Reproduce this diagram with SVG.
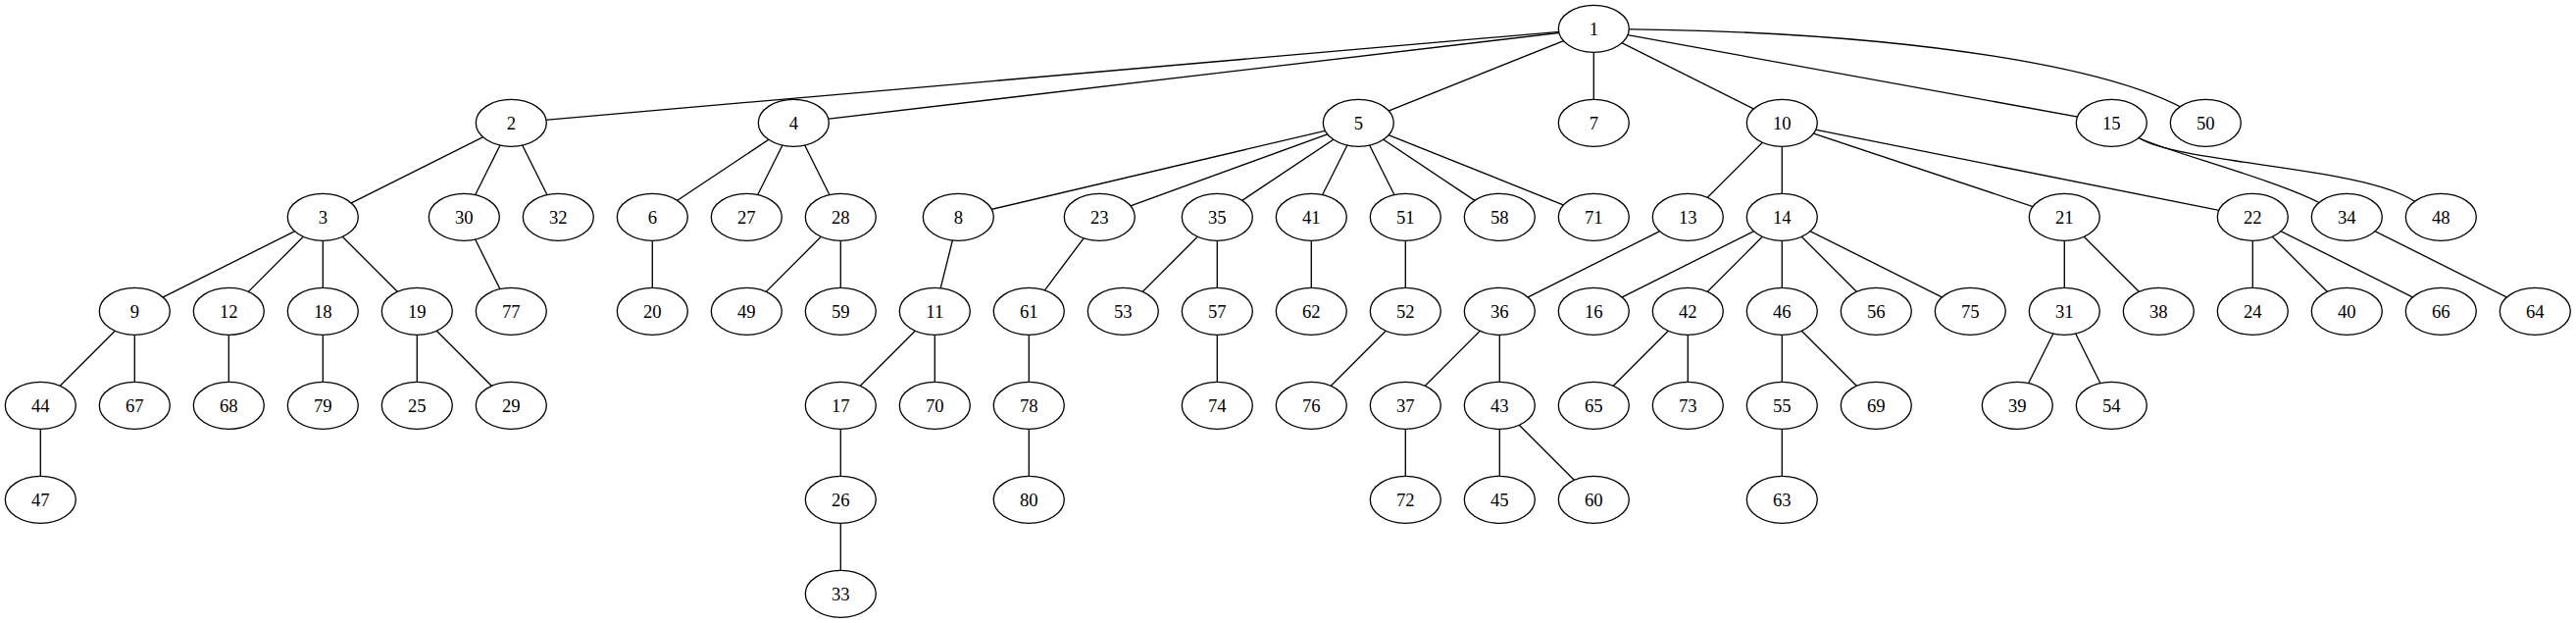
<svg xmlns="http://www.w3.org/2000/svg" width="2627" height="635" viewBox="0 0 2627 635">
<style>
.bg{fill:#ffffff}
.edges path{fill:none;stroke:#000;stroke-width:1.33}
.node ellipse{fill:#ffffff;stroke:#000;stroke-width:1.33}
.node text{font-family:"Liberation Serif","Times New Roman",serif;font-size:18.67px;text-anchor:middle;fill:#000}
</style>
<rect class="bg" x="0" y="0" width="2627" height="635"/>
<g id="edges" class="edges">
<path d="M1625.3,29.3L521.3,125.3"/>
<path d="M1625.3,29.3L809.3,125.3"/>
<path d="M1625.3,29.3L1385.3,125.3"/>
<path d="M1625.3,29.3L1625.3,125.3"/>
<path d="M1625.3,29.3L1817.3,125.3"/>
<path d="M1625.3,29.3L2153.3,125.3"/>
<path d="M1625.3,29.3C1950,31 2180,70 2249.3,125.3"/>
<path d="M521.3,125.3L329.3,221.3"/>
<path d="M521.3,125.3L473.3,221.3"/>
<path d="M521.3,125.3L569.3,221.3"/>
<path d="M809.3,125.3L665.3,221.3"/>
<path d="M809.3,125.3L761.3,221.3"/>
<path d="M809.3,125.3L857.3,221.3"/>
<path d="M1385.3,125.3L977.3,221.3"/>
<path d="M1385.3,125.3L1121.3,221.3"/>
<path d="M1385.3,125.3L1241.3,221.3"/>
<path d="M1385.3,125.3L1337.3,221.3"/>
<path d="M1385.3,125.3L1433.3,221.3"/>
<path d="M1385.3,125.3L1529.3,221.3"/>
<path d="M1385.3,125.3L1625.3,221.3"/>
<path d="M1817.3,125.3L1721.3,221.3"/>
<path d="M1817.3,125.3L1817.3,221.3"/>
<path d="M1817.3,125.3L2105.3,221.3"/>
<path d="M1817.3,125.3L2297.3,221.3"/>
<path d="M2153.3,125.3L2182,141C2215,156 2320,183 2366,207L2393.3,221.3"/>
<path d="M2153.3,125.3L2182,141C2225,167 2410,170 2462,205L2489.3,221.3"/>
<path d="M329.3,221.3L137.3,317.3"/>
<path d="M329.3,221.3L233.3,317.3"/>
<path d="M329.3,221.3L329.3,317.3"/>
<path d="M329.3,221.3L425.3,317.3"/>
<path d="M473.3,221.3L521.3,317.3"/>
<path d="M665.3,221.3L665.3,317.3"/>
<path d="M857.3,221.3L761.3,317.3"/>
<path d="M857.3,221.3L857.3,317.3"/>
<path d="M977.3,221.3L953.3,317.3"/>
<path d="M1121.3,221.3L1049.3,317.3"/>
<path d="M1241.3,221.3L1145.3,317.3"/>
<path d="M1241.3,221.3L1241.3,317.3"/>
<path d="M1337.3,221.3L1337.3,317.3"/>
<path d="M1433.3,221.3L1433.3,317.3"/>
<path d="M1721.3,221.3L1529.3,317.3"/>
<path d="M1817.3,221.3L1625.3,317.3"/>
<path d="M1817.3,221.3L1721.3,317.3"/>
<path d="M1817.3,221.3L1817.3,317.3"/>
<path d="M1817.3,221.3L1913.3,317.3"/>
<path d="M1817.3,221.3L2009.3,317.3"/>
<path d="M2105.3,221.3L2105.3,317.3"/>
<path d="M2105.3,221.3L2201.3,317.3"/>
<path d="M2297.3,221.3L2297.3,317.3"/>
<path d="M2297.3,221.3L2393.3,317.3"/>
<path d="M2297.3,221.3L2489.3,317.3"/>
<path d="M2393.3,221.3L2585.3,317.3"/>
<path d="M137.3,317.3L41.3,413.3"/>
<path d="M137.3,317.3L137.3,413.3"/>
<path d="M233.3,317.3L233.3,413.3"/>
<path d="M329.3,317.3L329.3,413.3"/>
<path d="M425.3,317.3L425.3,413.3"/>
<path d="M425.3,317.3L521.3,413.3"/>
<path d="M953.3,317.3L857.3,413.3"/>
<path d="M953.3,317.3L953.3,413.3"/>
<path d="M1049.3,317.3L1049.3,413.3"/>
<path d="M1241.3,317.3L1241.3,413.3"/>
<path d="M1433.3,317.3L1337.3,413.3"/>
<path d="M1529.3,317.3L1433.3,413.3"/>
<path d="M1529.3,317.3L1529.3,413.3"/>
<path d="M1721.3,317.3L1625.3,413.3"/>
<path d="M1721.3,317.3L1721.3,413.3"/>
<path d="M1817.3,317.3L1817.3,413.3"/>
<path d="M1817.3,317.3L1913.3,413.3"/>
<path d="M2105.3,317.3L2057.3,413.3"/>
<path d="M2105.3,317.3L2153.3,413.3"/>
<path d="M41.3,413.3L41.3,509.3"/>
<path d="M857.3,413.3L857.3,509.3"/>
<path d="M1049.3,413.3L1049.3,509.3"/>
<path d="M1433.3,413.3L1433.3,509.3"/>
<path d="M1529.3,413.3L1529.3,509.3"/>
<path d="M1529.3,413.3L1625.3,509.3"/>
<path d="M1817.3,413.3L1817.3,509.3"/>
<path d="M857.3,509.3L857.3,605.3"/>
</g>
<g id="node1" class="node"><ellipse cx="1625.3" cy="29.3" rx="36" ry="24"/><text x="1625.3" y="35.6">1</text></g>
<g id="node2" class="node"><ellipse cx="521.3" cy="125.3" rx="36" ry="24"/><text x="521.3" y="131.6">2</text></g>
<g id="node4" class="node"><ellipse cx="809.3" cy="125.3" rx="36" ry="24"/><text x="809.3" y="131.6">4</text></g>
<g id="node5" class="node"><ellipse cx="1385.3" cy="125.3" rx="36" ry="24"/><text x="1385.3" y="131.6">5</text></g>
<g id="node7" class="node"><ellipse cx="1625.3" cy="125.3" rx="36" ry="24"/><text x="1625.3" y="131.6">7</text></g>
<g id="node10" class="node"><ellipse cx="1817.3" cy="125.3" rx="36" ry="24"/><text x="1817.3" y="131.6">10</text></g>
<g id="node15" class="node"><ellipse cx="2153.3" cy="125.3" rx="36" ry="24"/><text x="2153.3" y="131.6">15</text></g>
<g id="node50" class="node"><ellipse cx="2249.3" cy="125.3" rx="36" ry="24"/><text x="2249.3" y="131.6">50</text></g>
<g id="node3" class="node"><ellipse cx="329.3" cy="221.3" rx="36" ry="24"/><text x="329.3" y="227.6">3</text></g>
<g id="node30" class="node"><ellipse cx="473.3" cy="221.3" rx="36" ry="24"/><text x="473.3" y="227.6">30</text></g>
<g id="node32" class="node"><ellipse cx="569.3" cy="221.3" rx="36" ry="24"/><text x="569.3" y="227.6">32</text></g>
<g id="node6" class="node"><ellipse cx="665.3" cy="221.3" rx="36" ry="24"/><text x="665.3" y="227.6">6</text></g>
<g id="node27" class="node"><ellipse cx="761.3" cy="221.3" rx="36" ry="24"/><text x="761.3" y="227.6">27</text></g>
<g id="node28" class="node"><ellipse cx="857.3" cy="221.3" rx="36" ry="24"/><text x="857.3" y="227.6">28</text></g>
<g id="node8" class="node"><ellipse cx="977.3" cy="221.3" rx="36" ry="24"/><text x="977.3" y="227.6">8</text></g>
<g id="node23" class="node"><ellipse cx="1121.3" cy="221.3" rx="36" ry="24"/><text x="1121.3" y="227.6">23</text></g>
<g id="node35" class="node"><ellipse cx="1241.3" cy="221.3" rx="36" ry="24"/><text x="1241.3" y="227.6">35</text></g>
<g id="node41" class="node"><ellipse cx="1337.3" cy="221.3" rx="36" ry="24"/><text x="1337.3" y="227.6">41</text></g>
<g id="node51" class="node"><ellipse cx="1433.3" cy="221.3" rx="36" ry="24"/><text x="1433.3" y="227.6">51</text></g>
<g id="node58" class="node"><ellipse cx="1529.3" cy="221.3" rx="36" ry="24"/><text x="1529.3" y="227.6">58</text></g>
<g id="node71" class="node"><ellipse cx="1625.3" cy="221.3" rx="36" ry="24"/><text x="1625.3" y="227.6">71</text></g>
<g id="node13" class="node"><ellipse cx="1721.3" cy="221.3" rx="36" ry="24"/><text x="1721.3" y="227.6">13</text></g>
<g id="node14" class="node"><ellipse cx="1817.3" cy="221.3" rx="36" ry="24"/><text x="1817.3" y="227.6">14</text></g>
<g id="node21" class="node"><ellipse cx="2105.3" cy="221.3" rx="36" ry="24"/><text x="2105.3" y="227.6">21</text></g>
<g id="node22" class="node"><ellipse cx="2297.3" cy="221.3" rx="36" ry="24"/><text x="2297.3" y="227.6">22</text></g>
<g id="node34" class="node"><ellipse cx="2393.3" cy="221.3" rx="36" ry="24"/><text x="2393.3" y="227.6">34</text></g>
<g id="node48" class="node"><ellipse cx="2489.3" cy="221.3" rx="36" ry="24"/><text x="2489.3" y="227.6">48</text></g>
<g id="node9" class="node"><ellipse cx="137.3" cy="317.3" rx="36" ry="24"/><text x="137.3" y="323.6">9</text></g>
<g id="node12" class="node"><ellipse cx="233.3" cy="317.3" rx="36" ry="24"/><text x="233.3" y="323.6">12</text></g>
<g id="node18" class="node"><ellipse cx="329.3" cy="317.3" rx="36" ry="24"/><text x="329.3" y="323.6">18</text></g>
<g id="node19" class="node"><ellipse cx="425.3" cy="317.3" rx="36" ry="24"/><text x="425.3" y="323.6">19</text></g>
<g id="node77" class="node"><ellipse cx="521.3" cy="317.3" rx="36" ry="24"/><text x="521.3" y="323.6">77</text></g>
<g id="node20" class="node"><ellipse cx="665.3" cy="317.3" rx="36" ry="24"/><text x="665.3" y="323.6">20</text></g>
<g id="node49" class="node"><ellipse cx="761.3" cy="317.3" rx="36" ry="24"/><text x="761.3" y="323.6">49</text></g>
<g id="node59" class="node"><ellipse cx="857.3" cy="317.3" rx="36" ry="24"/><text x="857.3" y="323.6">59</text></g>
<g id="node11" class="node"><ellipse cx="953.3" cy="317.3" rx="36" ry="24"/><text x="953.3" y="323.6">11</text></g>
<g id="node61" class="node"><ellipse cx="1049.3" cy="317.3" rx="36" ry="24"/><text x="1049.3" y="323.6">61</text></g>
<g id="node53" class="node"><ellipse cx="1145.3" cy="317.3" rx="36" ry="24"/><text x="1145.3" y="323.6">53</text></g>
<g id="node57" class="node"><ellipse cx="1241.3" cy="317.3" rx="36" ry="24"/><text x="1241.3" y="323.6">57</text></g>
<g id="node62" class="node"><ellipse cx="1337.3" cy="317.3" rx="36" ry="24"/><text x="1337.3" y="323.6">62</text></g>
<g id="node52" class="node"><ellipse cx="1433.3" cy="317.3" rx="36" ry="24"/><text x="1433.3" y="323.6">52</text></g>
<g id="node36" class="node"><ellipse cx="1529.3" cy="317.3" rx="36" ry="24"/><text x="1529.3" y="323.6">36</text></g>
<g id="node16" class="node"><ellipse cx="1625.3" cy="317.3" rx="36" ry="24"/><text x="1625.3" y="323.6">16</text></g>
<g id="node42" class="node"><ellipse cx="1721.3" cy="317.3" rx="36" ry="24"/><text x="1721.3" y="323.6">42</text></g>
<g id="node46" class="node"><ellipse cx="1817.3" cy="317.3" rx="36" ry="24"/><text x="1817.3" y="323.6">46</text></g>
<g id="node56" class="node"><ellipse cx="1913.3" cy="317.3" rx="36" ry="24"/><text x="1913.3" y="323.6">56</text></g>
<g id="node75" class="node"><ellipse cx="2009.3" cy="317.3" rx="36" ry="24"/><text x="2009.3" y="323.6">75</text></g>
<g id="node31" class="node"><ellipse cx="2105.3" cy="317.3" rx="36" ry="24"/><text x="2105.3" y="323.6">31</text></g>
<g id="node38" class="node"><ellipse cx="2201.3" cy="317.3" rx="36" ry="24"/><text x="2201.3" y="323.6">38</text></g>
<g id="node24" class="node"><ellipse cx="2297.3" cy="317.3" rx="36" ry="24"/><text x="2297.3" y="323.6">24</text></g>
<g id="node40" class="node"><ellipse cx="2393.3" cy="317.3" rx="36" ry="24"/><text x="2393.3" y="323.6">40</text></g>
<g id="node66" class="node"><ellipse cx="2489.3" cy="317.3" rx="36" ry="24"/><text x="2489.3" y="323.6">66</text></g>
<g id="node64" class="node"><ellipse cx="2585.3" cy="317.3" rx="36" ry="24"/><text x="2585.3" y="323.6">64</text></g>
<g id="node44" class="node"><ellipse cx="41.3" cy="413.3" rx="36" ry="24"/><text x="41.3" y="419.6">44</text></g>
<g id="node67" class="node"><ellipse cx="137.3" cy="413.3" rx="36" ry="24"/><text x="137.3" y="419.6">67</text></g>
<g id="node68" class="node"><ellipse cx="233.3" cy="413.3" rx="36" ry="24"/><text x="233.3" y="419.6">68</text></g>
<g id="node79" class="node"><ellipse cx="329.3" cy="413.3" rx="36" ry="24"/><text x="329.3" y="419.6">79</text></g>
<g id="node25" class="node"><ellipse cx="425.3" cy="413.3" rx="36" ry="24"/><text x="425.3" y="419.6">25</text></g>
<g id="node29" class="node"><ellipse cx="521.3" cy="413.3" rx="36" ry="24"/><text x="521.3" y="419.6">29</text></g>
<g id="node17" class="node"><ellipse cx="857.3" cy="413.3" rx="36" ry="24"/><text x="857.3" y="419.6">17</text></g>
<g id="node70" class="node"><ellipse cx="953.3" cy="413.3" rx="36" ry="24"/><text x="953.3" y="419.6">70</text></g>
<g id="node78" class="node"><ellipse cx="1049.3" cy="413.3" rx="36" ry="24"/><text x="1049.3" y="419.6">78</text></g>
<g id="node74" class="node"><ellipse cx="1241.3" cy="413.3" rx="36" ry="24"/><text x="1241.3" y="419.6">74</text></g>
<g id="node76" class="node"><ellipse cx="1337.3" cy="413.3" rx="36" ry="24"/><text x="1337.3" y="419.6">76</text></g>
<g id="node37" class="node"><ellipse cx="1433.3" cy="413.3" rx="36" ry="24"/><text x="1433.3" y="419.6">37</text></g>
<g id="node43" class="node"><ellipse cx="1529.3" cy="413.3" rx="36" ry="24"/><text x="1529.3" y="419.6">43</text></g>
<g id="node65" class="node"><ellipse cx="1625.3" cy="413.3" rx="36" ry="24"/><text x="1625.3" y="419.6">65</text></g>
<g id="node73" class="node"><ellipse cx="1721.3" cy="413.3" rx="36" ry="24"/><text x="1721.3" y="419.6">73</text></g>
<g id="node55" class="node"><ellipse cx="1817.3" cy="413.3" rx="36" ry="24"/><text x="1817.3" y="419.6">55</text></g>
<g id="node69" class="node"><ellipse cx="1913.3" cy="413.3" rx="36" ry="24"/><text x="1913.3" y="419.6">69</text></g>
<g id="node39" class="node"><ellipse cx="2057.3" cy="413.3" rx="36" ry="24"/><text x="2057.3" y="419.6">39</text></g>
<g id="node54" class="node"><ellipse cx="2153.3" cy="413.3" rx="36" ry="24"/><text x="2153.3" y="419.6">54</text></g>
<g id="node47" class="node"><ellipse cx="41.3" cy="509.3" rx="36" ry="24"/><text x="41.3" y="515.6">47</text></g>
<g id="node26" class="node"><ellipse cx="857.3" cy="509.3" rx="36" ry="24"/><text x="857.3" y="515.6">26</text></g>
<g id="node80" class="node"><ellipse cx="1049.3" cy="509.3" rx="36" ry="24"/><text x="1049.3" y="515.6">80</text></g>
<g id="node72" class="node"><ellipse cx="1433.3" cy="509.3" rx="36" ry="24"/><text x="1433.3" y="515.6">72</text></g>
<g id="node45" class="node"><ellipse cx="1529.3" cy="509.3" rx="36" ry="24"/><text x="1529.3" y="515.6">45</text></g>
<g id="node60" class="node"><ellipse cx="1625.3" cy="509.3" rx="36" ry="24"/><text x="1625.3" y="515.6">60</text></g>
<g id="node63" class="node"><ellipse cx="1817.3" cy="509.3" rx="36" ry="24"/><text x="1817.3" y="515.6">63</text></g>
<g id="node33" class="node"><ellipse cx="857.3" cy="605.3" rx="36" ry="24"/><text x="857.3" y="611.6">33</text></g>
</svg>
